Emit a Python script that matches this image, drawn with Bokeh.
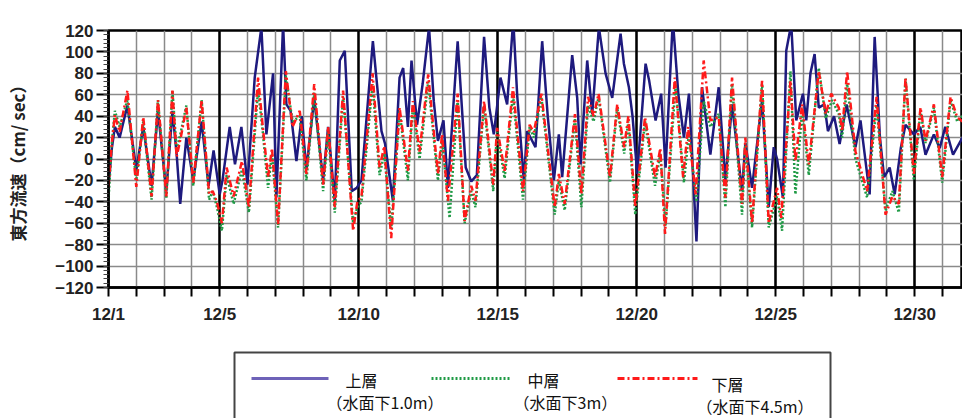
from bokeh.plotting import figure
from bokeh.models import Range1d, FixedTicker, Grid
from bokeh.layouts import column
from bokeh.core.properties import value
from bokeh.embed import file_html
from bokeh.resources import INLINE

# ---- data (time in days since 12/1 00:00, east velocity in cm/sec) ----
day_labels = {0: "12/1", 4: "12/5", 9: "12/10", 14: "12/15", 19: "12/20", 24: "12/25", 29: "12/30"}
y_ticks = [-120, -100, -80, -60, -40, -20, 0, 20, 40, 60, 80, 100, 120]

t_upper = [0.00, 0.12, 0.23, 0.40, 0.68, 1.00, 1.25, 1.55, 1.78, 2.08, 2.30, 2.45, 2.58, 2.80, 3.05, 3.35,
           3.60, 3.78, 4.00, 4.10, 4.36, 4.55, 4.78, 5.00, 5.26, 5.50, 5.68, 5.92, 6.04, 6.28, 6.40, 6.55,
           6.76, 6.95, 7.12, 7.40, 7.72, 7.90, 8.14, 8.32, 8.50, 8.75, 8.93, 9.10, 9.51, 9.82, 9.95, 10.23,
           10.47, 10.60, 10.77, 10.90, 11.10, 11.30, 11.53, 11.70, 11.85, 12.05, 12.21, 12.56, 12.85, 13.05,
           13.25, 13.51, 13.70, 13.86, 14.10, 14.34, 14.56, 14.70, 14.94, 15.06, 15.36, 15.60, 15.80, 16.02,
           16.20, 16.32, 16.68, 16.86, 16.98, 17.22, 17.40, 17.64, 17.88, 18.12, 18.42, 18.54, 18.72, 18.85,
           19.02, 19.32, 19.45, 19.68, 19.88, 20.04, 20.30, 20.50, 20.70, 20.88, 21.15, 21.35, 21.65, 21.95,
           22.19, 22.43, 22.79, 22.91, 23.15, 23.51, 23.75, 23.93, 24.05, 24.26, 24.38, 24.56, 24.74, 24.98,
           25.10, 25.25, 25.40, 25.55, 25.75, 25.88, 26.10, 26.30, 26.55, 26.87, 27.05, 27.38, 27.56, 27.75,
           27.90, 28.10, 28.28, 28.50, 28.67, 28.97, 29.20, 29.39, 29.69, 29.90, 30.10, 30.38, 30.72]
v_upper = [-25, 10, 30, 20, 50, -10, 30, -25, 45, -30, 45, 5, -42, 20, -20, 35,
           -25, 8, -33, -20, 30, -5, 30, -24, 76, 123, 23, 80, -36, 126, 51, 45,
           -2, 40, -10, 57, -20, 30, -40, 92, 101, -30, -27, -20, 110, 26, 14, -39,
           76, 85, 30, 92, 32, 70, 123, 54, 17, 36, -27, 110, -8, -21,
           -15, 114, 48, 23, 76, 51, 130, 60, -20, 26, 11, 110, 40, -20,
           23, -17, 97, 57, -5, 92, 42, 123, 80, 57, 117, 89, 67, 40,
           -14, 89, 73, 36, 61, -8, 130, 60, 20, 61, -77, 67, 4, 67,
           -20, 51, -30, 15, -27, 55, -45, 11, 0, -36, 101, 126, 36, 61,
           36, 80, 98, 48, 51, 26, 40, 14, 51, 11, 36, -33, 114, 20,
           -17, -8, -33, 10, 32, 23, 30, 4, 23, 10, 30, 4, 20]

t_middle = [0.00, 0.12, 0.23, 0.40, 0.68, 1.00, 1.25, 1.55, 1.78, 2.08, 2.30, 2.45, 2.60, 2.80, 3.05, 3.35,
            3.62, 3.75, 3.90, 4.08, 4.25, 4.50, 4.80, 5.05, 5.38, 5.55, 5.74, 5.88, 6.10, 6.38, 6.62, 6.88,
            7.12, 7.40, 7.72, 7.90, 8.14, 8.44, 8.80, 8.95, 9.10, 9.50, 9.75, 9.92, 10.17, 10.47, 10.77, 10.95,
            11.19, 11.50, 11.85, 12.00, 12.27, 12.56, 12.81, 13.05, 13.20, 13.51, 13.84, 13.98, 14.25, 14.55,
            14.91, 15.15, 15.30, 15.57, 16.05, 16.20, 16.41, 16.78, 17.01, 17.25, 17.45, 17.63, 18.04, 18.30,
            18.55, 18.70, 18.95, 19.30, 19.66, 19.85, 20.04, 20.40, 20.70, 20.88, 21.15, 21.41, 21.65, 21.95,
            22.19, 22.43, 22.79, 22.91, 23.15, 23.51, 23.75, 24.05, 24.23, 24.53, 24.71, 24.95, 25.19, 25.55,
            25.80, 26.03, 26.27, 26.39, 26.57, 26.87, 27.29, 27.63, 27.95, 28.20, 28.43, 28.67, 28.97, 29.21,
            29.39, 29.69, 29.99, 30.29, 30.53, 30.72]
v_middle = [-38, 15, 45, 30, 55, -20, 35, -38, 55, -37, 64, 8, 25, 50, -25, 55,
            -38, -30, -45, -67, -15, -42, -10, -50, 65, 25, -27, 5, -64, 78, 35, 40,
            -20, 62, -30, 25, -50, 58, -60, -45, -40, 70, -15, 5, -65, 45, -20, 50,
            0, 72, -20, 18, -55, 55, -60, -30, -45, 50, -30, 25, -18, 60,
            -38, 30, 20, 58, -52, -20, -48, 38, -45, 50, 35, 58, -22, 48,
            5, 35, -52, 35, -25, 5, -62, 70, -22, 25, -40, 54, 30, 42,
            -45, 70, -52, 15, -64, 70, -64, -35, -67, 82, -33, 45, -15, 85,
            38, 55, 42, 20, 70, 0, -36, 50, -48, -30, -50, 75, -20, 45,
            15, 48, -22, 55, 35, 40]

t_lower = [0.00, 0.12, 0.23, 0.40, 0.68, 1.00, 1.25, 1.55, 1.78, 2.08, 2.30, 2.45, 2.60, 2.80, 3.05, 3.35,
           3.62, 3.75, 3.90, 4.08, 4.25, 4.50, 4.80, 5.05, 5.38, 5.55, 5.74, 5.88, 6.10, 6.38, 6.62, 6.88,
           7.12, 7.40, 7.72, 7.90, 8.14, 8.44, 8.80, 8.95, 9.10, 9.50, 9.75, 9.92, 10.17, 10.47, 10.77, 10.95,
           11.19, 11.50, 11.85, 12.00, 12.21, 12.56, 12.81, 13.05, 13.20, 13.51, 13.84, 13.98, 14.25, 14.55,
           14.91, 15.15, 15.30, 15.57, 16.05, 16.20, 16.41, 16.78, 17.01, 17.25, 17.45, 17.63, 18.04, 18.30,
           18.55, 18.70, 18.95, 19.30, 19.66, 19.85, 20.02, 20.37, 20.67, 20.85, 21.12, 21.41, 21.65, 21.95,
           22.19, 22.43, 22.79, 22.91, 23.15, 23.51, 23.75, 23.88, 24.05, 24.20, 24.53, 24.71, 24.95, 25.19,
           25.55, 25.80, 26.00, 26.27, 26.39, 26.57, 26.87, 27.29, 27.63, 27.95, 28.20, 28.43, 28.67, 28.97,
           29.21, 29.39, 29.69, 29.99, 30.29, 30.53, 30.72]
v_lower = [-26, 15, 41, 25, 64, -26, 39, -35, 55, -35, 64, 2, 20, 48, -22, 55,
           -33, -30, -40, -60, -8, -35, -2, -45, 76, 30, -17, 10, -61, 82, 30, 45,
           -14, 70, -24, 30, -45, 64, -67, -40, -35, 80, -8, 12, -74, 48, -11, 54,
           7, 79, -14, 23, -39, 61, -58, -25, -39, 54, -24, 29, -11, 67,
           -30, 32, 25, 61, -45, -14, -42, 42, -33, 58, 40, 61, -17, 51,
           11, 40, -45, 39, -17, 10, -70, 76, -17, 30, -33, 92, 36, 39,
           -36, 76, -42, 20, -60, 73, -60, -45, -27, -55, 73, -2, 51, -5,
           82, 42, 61, 48, 26, 82, 7, -30, 58, -52, -35, -42, 76, -14,
           48, 17, 51, -17, 58, 39, 35]

legend_names = ["上層", "中層", "下層"]
legend_depths = ["（水面下1.0m）", "（水面下3m）", "（水面下4.5m）"]
colors = ["#1e1a7e", "#1f9a45", "#ff1a1a"]

# ---- main chart ----
p = figure(width=962, height=338, output_backend="svg", toolbar_location=None,
           x_range=Range1d(0, 30.72), y_range=Range1d(-120, 120),
           min_border_left=108, min_border_right=0, min_border_top=30, min_border_bottom=51)
p.background_fill_color = "white"
p.border_fill_color = "white"
p.outline_line_color = "black"
p.outline_line_width = 2.5

days = list(range(0, 31))
p.xaxis.ticker = FixedTicker(ticks=days)
p.xaxis.major_label_overrides = {d: day_labels.get(d, "") for d in days}
p.xgrid.ticker = FixedTicker(ticks=days)
p.xgrid.grid_line_color = "#8a8a8a"
p.xgrid.grid_line_width = 1.5
p.yaxis.ticker = FixedTicker(ticks=y_ticks, minor_ticks=list(range(-120, 121, 4)))
p.ygrid.ticker = FixedTicker(ticks=y_ticks)
p.ygrid.grid_line_color = "#8a8a8a"
p.ygrid.grid_line_width = 1.5

five = Grid(dimension=0, ticker=FixedTicker(ticks=[d for d in day_labels if d > 0]),
            grid_line_color="black", grid_line_width=2.5)
p.add_layout(five)

for ax in (p.xaxis[0], p.yaxis[0]):
    ax.axis_line_width = 2.5
    ax.axis_line_color = "black"
    ax.major_tick_line_color = "black"
    ax.major_tick_line_width = 2
    ax.major_tick_in = 0
    ax.major_label_text_font = "Liberation Sans"
    ax.major_label_text_font_style = "bold"
    ax.major_label_text_font_size = "17px"
    ax.major_label_text_color = "#222222"
p.xaxis.major_tick_out = 9
p.xaxis.major_label_standoff = 8
p.xaxis.minor_tick_line_color = None
p.yaxis.major_tick_out = 12
p.yaxis.major_label_standoff = 3
p.yaxis.minor_tick_out = 5
p.yaxis.minor_tick_in = 0
p.yaxis.minor_tick_line_color = "#444444"
p.yaxis.axis_label = "東方流速（cm/ sec）"
p.yaxis.axis_label_text_font = "Noto Sans CJK JP"
p.yaxis.axis_label_text_font_size = "17px"
p.yaxis.axis_label_text_font_style = "bold"
p.yaxis.axis_label_text_color = "#222222"
p.yaxis.axis_label_standoff = 22

p.line(t_upper, v_upper, line_color=colors[0], line_width=2.5)
p.line(t_middle, v_middle, line_color=colors[1], line_width=2.5, line_dash="2 2")
p.line(t_lower, v_lower, line_color=colors[2], line_width=2.5, line_dash="7 3 2 3")

# ---- legend panel (frame is aligned with the main frame: x in page pixels 108..962) ----
leg = figure(width=962, height=80, output_backend="svg", toolbar_location=None,
             x_range=Range1d(108, 962), y_range=Range1d(80, 0),
             x_axis_type=None, y_axis_type=None,
             min_border_left=108, min_border_right=0, min_border_top=0, min_border_bottom=0)
leg.grid.visible = False
leg.outline_line_color = None
leg.background_fill_color = "white"
leg.border_fill_color = "white"
leg.quad(left=[234], right=[830], top=[14], bottom=[120], fill_color=None,
         line_color="#444444", line_width=2)

sample_x = [(251, 328), (431, 510), (617, 697)]
name_pos = [(345, 41), (527, 41), (711, 45)]
depth_pos = [(326, 63), (513, 63), (696, 67)]
dashes = ["solid", "2 2", "7 3 2 3"]
leg_colors = ["#6e62b8", colors[1], colors[2]]
for i in range(3):
    leg.line(list(sample_x[i]), [40, 40], line_color=leg_colors[i], line_width=3, line_dash=dashes[i])
    leg.text(x=[name_pos[i][0]], y=[name_pos[i][1]], text=[legend_names[i]],
             text_font=value("Noto Sans CJK JP"), text_font_size=value("16px"),
             text_baseline="middle", text_align="left", text_color="#111111")
    leg.text(x=[depth_pos[i][0]], y=[depth_pos[i][1]], text=[legend_depths[i]],
             text_font=value("Noto Sans CJK JP"), text_font_size=value("16px"),
             text_baseline="middle", text_align="left", text_color="#111111")

layout = column(p, leg, spacing=0)
open("out.html", "w").write(file_html(layout, INLINE))
